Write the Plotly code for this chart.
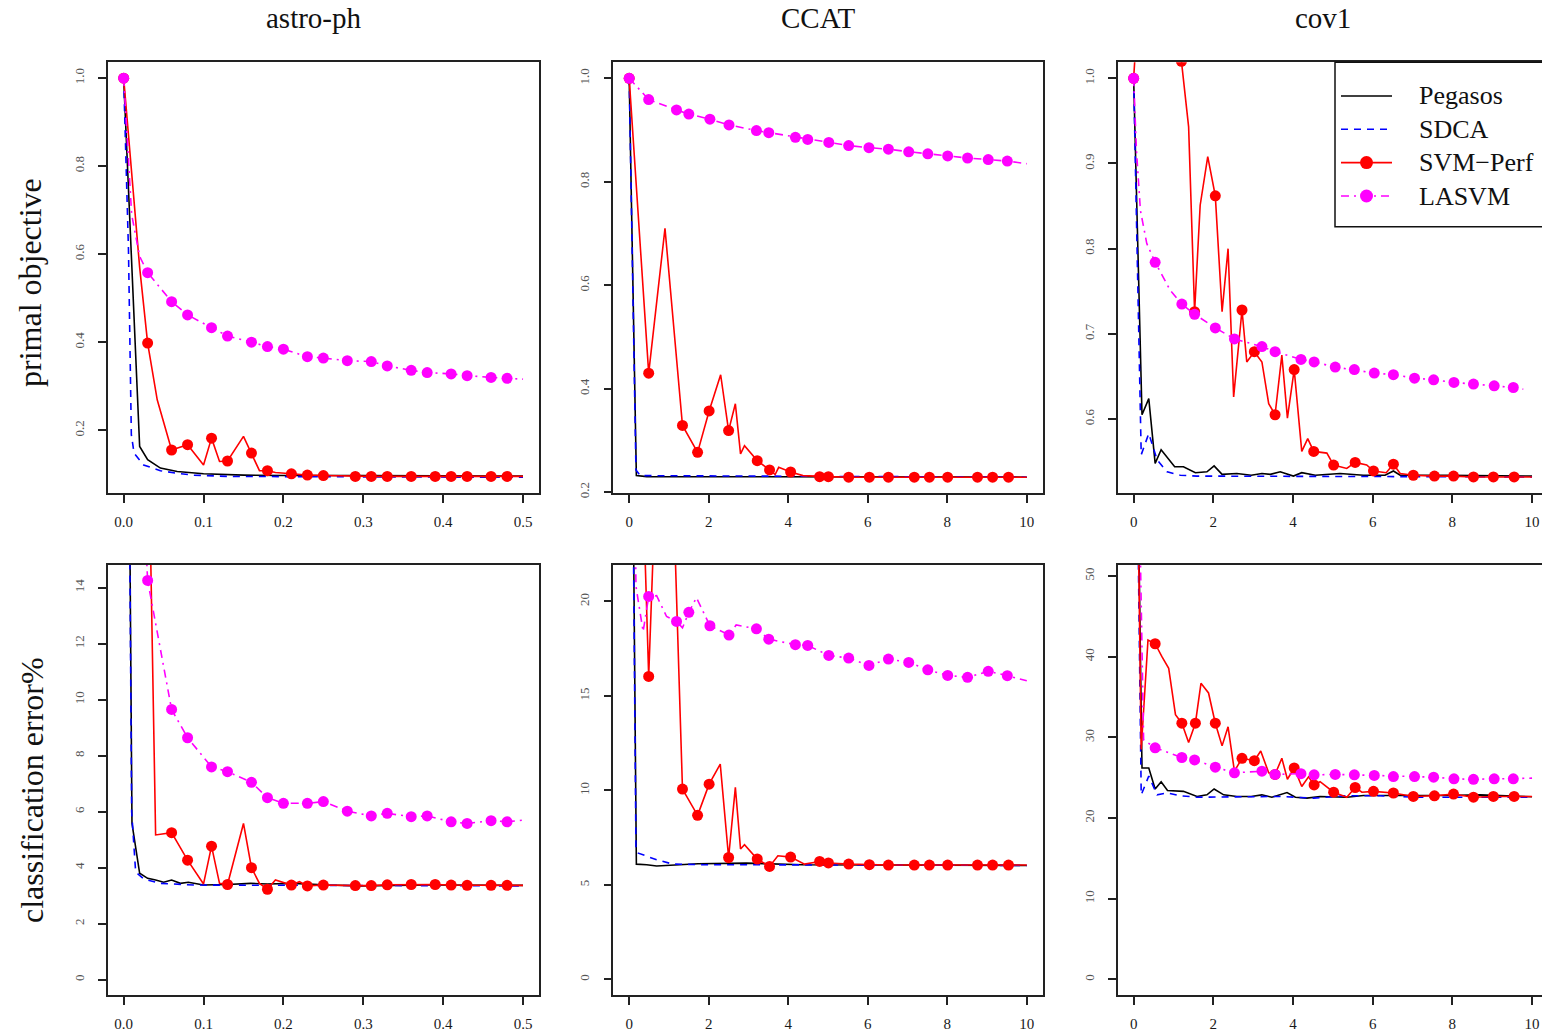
import plotly.graph_objects as go

# ---------------- data ----------------
methods = ["Pegasos", "SDCA", "SVM\u2212Perf", "LASVM"]
datasets = ["astro-ph", "CCAT", "cov1"]
row_labels = ["primal objective", "classification error%"]

# astro-ph, primal objective
a_obj_peg_x = [0, 0.01, 0.02, 0.03, 0.046, 0.067, 0.1, 0.15, 0.2, 0.3, 0.4, 0.5]
a_obj_peg_y = [1.0, 0.6, 0.163, 0.133, 0.114, 0.106, 0.101, 0.098, 0.097, 0.097, 0.096, 0.096]
a_obj_sdca_x = [0, 0.006, 0.0096, 0.013, 0.025, 0.046, 0.067, 0.088, 0.13, 0.2, 0.3, 0.5]
a_obj_sdca_y = [1.0, 0.61, 0.19, 0.148, 0.121, 0.108, 0.102, 0.098, 0.095, 0.094, 0.094, 0.093]
a_obj_svm_x = [0, 0.02, 0.03, 0.042, 0.06, 0.08, 0.1, 0.11, 0.12, 0.13, 0.15, 0.16, 0.17, 0.18, 0.19,
               0.21, 0.23, 0.25, 0.29, 0.31, 0.33, 0.36, 0.39, 0.41, 0.43, 0.46, 0.48, 0.5]
a_obj_svm_y = [1.0, 0.57, 0.398, 0.269, 0.155, 0.167, 0.121, 0.182, 0.129, 0.130, 0.186, 0.148, 0.108, 0.108, 0.104,
               0.101, 0.098, 0.097, 0.095, 0.095, 0.095, 0.095, 0.095, 0.095, 0.095, 0.095, 0.095, 0.095]
a_obj_svm_mark = [1, 0, 1, 0, 1, 1, 0, 1, 0, 1, 0, 1, 0, 1, 0,
                  1, 1, 1, 1, 1, 1, 1, 1, 1, 1, 1, 1, 0]
a_obj_las_x = [0, 0.01, 0.02, 0.03, 0.06, 0.08, 0.11, 0.13, 0.16, 0.18, 0.2, 0.23, 0.25, 0.28, 0.31, 0.33,
               0.36, 0.38, 0.41, 0.43, 0.46, 0.48, 0.5]
a_obj_las_y = [1.0, 0.69, 0.595, 0.558, 0.492, 0.462, 0.433, 0.414, 0.4, 0.39, 0.384, 0.367, 0.364, 0.358,
               0.356, 0.346, 0.336, 0.331, 0.328, 0.324, 0.32, 0.318, 0.316]
a_obj_las_mark = [1, 0, 0, 1, 1, 1, 1, 1, 1, 1, 1, 1, 1, 1, 1, 1, 1, 1, 1, 1, 1, 1, 0]

# CCAT, primal objective
c_obj_peg_x = [0, 0.18, 0.44, 10]
c_obj_peg_y = [1.0, 0.232, 0.23, 0.229]
c_obj_sdca_x = [0, 0.17, 0.28, 10]
c_obj_sdca_y = [1.0, 0.243, 0.232, 0.229]
c_obj_svm_x = [0, 0.49, 0.9, 1.34, 1.72, 2.01, 2.3, 2.5, 2.67, 2.8, 2.9, 3.22, 3.53, 3.67, 3.76, 4.06, 4.37,
               4.79, 5.01, 5.52, 6.04, 6.52, 7.17, 7.55, 8.01, 8.76, 9.14, 9.54, 10]
c_obj_svm_y = [1.0, 0.43, 0.71, 0.329, 0.277, 0.357, 0.427, 0.319, 0.371, 0.274, 0.29, 0.261, 0.243, 0.234,
               0.248, 0.239, 0.232, 0.23, 0.23, 0.229, 0.229, 0.229, 0.229, 0.229, 0.229, 0.229, 0.229, 0.229, 0.229]
c_obj_svm_mark = [1, 1, 0, 1, 1, 1, 0, 1, 0, 0, 0, 1, 1, 0, 0, 1, 0,
                  1, 1, 1, 1, 1, 1, 1, 1, 1, 1, 1, 0]
c_obj_las_x = [0, 0.49, 1.19, 1.5, 2.03, 2.51, 3.2, 3.51, 4.18, 4.49, 5.02, 5.52, 6.03, 6.52, 7.03, 7.51,
               8.01, 8.51, 9.03, 9.51, 10]
c_obj_las_y = [1.0, 0.959, 0.939, 0.931, 0.921, 0.91, 0.899, 0.895, 0.886, 0.882, 0.876, 0.87, 0.866, 0.863,
               0.858, 0.854, 0.85, 0.846, 0.843, 0.84, 0.835]
c_obj_las_mark = [1] * 20 + [0]

# cov1, primal objective
v_obj_peg_x = [0, 0.21, 0.38, 0.54, 0.69, 1.03, 1.25, 1.55, 1.84, 2.02, 2.22, 2.59, 2.95, 3.22, 3.43, 3.68,
               4.01, 4.22, 4.56, 5.18, 5.77, 6.31, 6.52, 6.69, 7.86, 10]
v_obj_peg_y = [1.0, 0.605, 0.624, 0.548, 0.564, 0.544, 0.544, 0.537, 0.538, 0.545, 0.535, 0.536, 0.534, 0.536,
               0.535, 0.538, 0.533, 0.537, 0.534, 0.536, 0.534, 0.534, 0.539, 0.534, 0.534, 0.533]
v_obj_sdca_x = [0, 0.19, 0.38, 0.59, 0.84, 1.17, 1.59, 10]
v_obj_sdca_y = [1.0, 0.558, 0.583, 0.552, 0.538, 0.534, 0.533, 0.532]
v_obj_svm_x = [0, 0.54, 1.2, 1.38, 1.53, 1.67, 1.86, 2.05, 2.22, 2.37, 2.51, 2.72, 2.84, 3.03, 3.22, 3.39, 3.55,
               3.72, 3.86, 4.03, 4.22, 4.37, 4.52, 4.85, 5.02, 5.35, 5.56, 5.85, 6.02, 6.34, 6.52, 6.69, 7.02,
               7.55, 8.03, 8.53, 9.03, 9.55, 10]
v_obj_svm_y = [1.0, 1.4, 1.02, 0.943, 0.726, 0.851, 0.908, 0.862, 0.726, 0.8, 0.626, 0.728, 0.667, 0.679, 0.667,
               0.618, 0.605, 0.675, 0.601, 0.658, 0.562, 0.577, 0.562, 0.56, 0.546, 0.542, 0.549, 0.546, 0.539,
               0.537, 0.547, 0.536, 0.534, 0.533, 0.533, 0.532, 0.532, 0.532, 0.532]
v_obj_svm_mark = [1, 1, 1, 0, 1, 0, 0, 1, 0, 0, 0, 1, 0, 1, 0, 0, 1,
                  0, 0, 1, 0, 0, 1, 0, 1, 0, 1, 0, 1, 0, 1, 0, 1,
                  1, 1, 1, 1, 1, 0]
v_obj_las_x = [0, 0.07, 0.17, 0.33, 0.54, 0.92, 1.21, 1.53, 2.05, 2.53, 3.22, 3.55, 4.2, 4.53, 5.06, 5.54,
               6.04, 6.52, 7.05, 7.53, 8.04, 8.53, 9.05, 9.53, 9.78]
v_obj_las_y = [1.0, 0.916, 0.845, 0.806, 0.784, 0.751, 0.735, 0.723, 0.707, 0.694, 0.685, 0.679, 0.67, 0.667,
               0.661, 0.658, 0.654, 0.652, 0.648, 0.646, 0.643, 0.641, 0.639, 0.637, 0.635]
v_obj_las_mark = [1, 0, 0, 0, 1, 0, 1, 1, 1, 1, 1, 1, 1, 1, 1, 1, 1, 1, 1, 1, 1, 1, 1, 1, 0]

# astro-ph, classification error %
a_err_peg_x = [0, 0.0104, 0.02, 0.03, 0.04, 0.05, 0.06, 0.071, 0.081, 0.1, 0.13, 0.159, 0.18, 0.213, 0.255,
               0.297, 0.38, 0.5]
a_err_peg_y = [46, 5.58, 3.8, 3.62, 3.56, 3.48, 3.56, 3.44, 3.48, 3.38, 3.4, 3.44, 3.42, 3.44, 3.38, 3.35, 3.38, 3.37]
a_err_sdca_x = [0, 0.01, 0.015, 0.025, 0.046, 0.088, 0.5]
a_err_sdca_y = [46, 6.0, 3.85, 3.6, 3.44, 3.38, 3.35]
a_err_svm_x = [0, 0.03, 0.04, 0.06, 0.08, 0.1, 0.11, 0.12, 0.13, 0.15, 0.16, 0.17, 0.18, 0.19, 0.21, 0.22,
               0.23, 0.25, 0.29, 0.31, 0.33, 0.36, 0.39, 0.41, 0.43, 0.46, 0.48, 0.5]
a_err_svm_y = [46, 21.3, 5.17, 5.25, 4.27, 3.42, 4.77, 3.44, 3.4, 5.58, 4.0, 3.44, 3.23, 3.56, 3.38, 3.5,
               3.35, 3.38, 3.36, 3.36, 3.39, 3.4, 3.4, 3.38, 3.37, 3.37, 3.37, 3.37]
a_err_svm_mark = [1, 1, 0, 1, 1, 0, 1, 0, 1, 0, 1, 0, 1, 0, 1, 0,
                  1, 1, 1, 1, 1, 1, 1, 1, 1, 1, 1, 0]
a_err_las_x = [0, 0.01, 0.02, 0.03, 0.06, 0.08, 0.11, 0.13, 0.16, 0.18, 0.2, 0.23, 0.25, 0.28, 0.31, 0.33,
               0.36, 0.38, 0.41, 0.43, 0.46, 0.48, 0.5]
a_err_las_y = [46, 30, 20, 14.26, 9.65, 8.64, 7.6, 7.43, 7.05, 6.5, 6.3, 6.3, 6.36, 6.02, 5.85, 5.94,
               5.82, 5.85, 5.64, 5.58, 5.68, 5.64, 5.7]
a_err_las_mark = [1, 0, 0, 1, 1, 1, 1, 1, 1, 1, 1, 1, 1, 1, 1, 1, 1, 1, 1, 1, 1, 1, 0]

# CCAT, classification error %
c_err_peg_x = [0, 0.18, 0.44, 0.69, 1.73, 2.95, 4.37, 10]
c_err_peg_y = [50, 6.1, 6.07, 6.0, 6.12, 6.15, 6.07, 6.03]
c_err_sdca_x = [0, 0.17, 0.23, 0.69, 1.1, 1.86, 10]
c_err_sdca_y = [50, 6.9, 6.68, 6.33, 6.1, 6.07, 6.03]
c_err_svm_x = [0, 0.49, 0.9, 1.34, 1.72, 2.01, 2.29, 2.5, 2.67, 2.8, 2.9, 3.22, 3.53, 3.74, 4.06, 4.41,
               4.79, 5.01, 5.52, 6.04, 6.52, 7.17, 7.55, 8.01, 8.76, 9.14, 9.54, 10]
c_err_svm_y = [50, 16.03, 40, 10.07, 8.68, 10.33, 11.39, 6.45, 10.16, 6.9, 7.13, 6.37, 5.98, 6.54, 6.47, 6.1,
               6.24, 6.16, 6.1, 6.07, 6.05, 6.05, 6.05, 6.05, 6.05, 6.05, 6.05, 6.05]
c_err_svm_mark = [1, 1, 0, 1, 1, 1, 0, 1, 0, 0, 0, 1, 1, 0, 1, 0,
                  1, 1, 1, 1, 1, 1, 1, 1, 1, 1, 1, 0]
c_err_las_x = [0, 0.17, 0.35, 0.49, 0.69, 0.94, 1.19, 1.34, 1.5, 1.69, 2.03, 2.51, 2.69, 3.2, 3.51, 4.18,
               4.49, 5.02, 5.52, 6.03, 6.52, 7.03, 7.51, 8.01, 8.51, 9.03, 9.51, 10]
c_err_las_y = [50, 20.8, 18.4, 20.26, 20.3, 19.2, 18.94, 18.6, 19.42, 20.2, 18.71, 18.22, 18.75, 18.55,
               18.0, 17.71, 17.67, 17.14, 17.0, 16.61, 16.95, 16.77, 16.38, 16.08, 15.98, 16.3, 16.07, 15.8]
c_err_las_mark = [1, 0, 0, 1, 0, 0, 1, 0, 1, 0, 1, 1, 0, 1, 1, 1,
                  1, 1, 1, 1, 1, 1, 1, 1, 1, 1, 1, 0]

# cov1, classification error %
v_err_peg_x = [0, 0.21, 0.38, 0.54, 0.69, 0.85, 1.25, 1.59, 1.84, 2.02, 2.26, 2.59, 2.95, 3.22, 3.47, 3.85,
               4.06, 4.35, 4.68, 5.35, 5.77, 7.02, 7.86, 8.7, 10]
v_err_peg_y = [100, 26.2, 26.2, 23.6, 24.5, 23.4, 23.3, 22.67, 22.87, 23.6, 22.87, 22.67, 22.67, 22.87, 22.58,
               23.16, 22.58, 22.46, 22.67, 22.58, 22.79, 22.75, 22.79, 22.87, 22.63]
v_err_sdca_x = [0, 0.19, 0.38, 0.59, 0.84, 1.17, 1.59, 2.0, 3.68, 4.52, 5.35, 6.19, 7.02, 10]
v_err_sdca_y = [100, 22.87, 25.2, 22.87, 23.1, 22.75, 22.58, 22.58, 22.67, 22.46, 22.75, 22.75, 22.58, 22.58]
v_err_svm_x = [0, 0.19, 0.36, 0.54, 0.71, 0.88, 1.05, 1.21, 1.38, 1.55, 1.69, 1.88, 2.05, 2.22, 2.37, 2.53,
               2.72, 3.03, 3.19, 3.39, 3.55, 3.72, 3.86, 4.03, 4.22, 4.39, 4.53, 4.68, 5.02, 5.35, 5.56, 5.73,
               6.02, 6.52, 7.02, 7.55, 8.03, 8.53, 9.03, 9.55, 10]
v_err_svm_y = [100, 28.5, 42.07, 41.6, 40.0, 38.56, 32.8, 31.75, 29.36, 31.75, 36.7, 35.5, 31.75, 28.94, 31.3,
               25.8, 27.4, 27.1, 28.3, 25.6, 25.4, 27.4, 24.8, 26.2, 23.9, 25.1, 24.1, 24.5, 23.2, 22.58,
               23.78, 23.2, 23.3, 23.1, 22.67, 22.75, 22.96, 22.58, 22.67, 22.67, 22.67]
v_err_svm_mark = [1, 0, 0, 1, 0, 0, 0, 1, 0, 1, 0, 0, 1, 0, 0, 0,
                  1, 1, 0, 0, 1, 0, 0, 1, 0, 0, 1, 0, 1, 0, 1, 0,
                  1, 1, 1, 1, 1, 1, 1, 1, 0]
v_err_las_x = [0, 0.25, 0.54, 1.21, 1.53, 2.05, 2.53, 3.22, 3.55, 4.2, 4.53, 5.06, 5.54, 6.04, 6.52, 7.05,
               7.53, 8.04, 8.53, 9.05, 9.53, 10]
v_err_las_y = [100, 29.7, 28.7, 27.5, 27.2, 26.3, 25.6, 25.8, 25.4, 25.5, 25.35, 25.4, 25.35, 25.27, 25.14,
               25.14, 25.06, 24.85, 24.8, 24.85, 24.85, 24.94]
v_err_las_mark = [1, 0] + [1] * 19 + [0]

# tick labels
x_ticks_astro = [0.0, 0.1, 0.2, 0.3, 0.4, 0.5]
x_ticklabels_astro = ["0.0", "0.1", "0.2", "0.3", "0.4", "0.5"]
x_ticks_time = [0, 2, 4, 6, 8, 10]
x_ticklabels_time = ["0", "2", "4", "6", "8", "10"]
y_ticks = [
    [0.2, 0.4, 0.6, 0.8, 1.0],
    [0.2, 0.4, 0.6, 0.8, 1.0],
    [0.6, 0.7, 0.8, 0.9, 1.0],
    [0, 2, 4, 6, 8, 10, 12, 14],
    [0, 5, 10, 15, 20],
    [0, 10, 20, 30, 40, 50],
]
y_ticklabels = [
    ["0.2", "0.4", "0.6", "0.8", "1.0"],
    ["0.2", "0.4", "0.6", "0.8", "1.0"],
    ["0.6", "0.7", "0.8", "0.9", "1.0"],
    ["0", "2", "4", "6", "8", "10", "12", "14"],
    ["0", "5", "10", "15", "20"],
    ["0", "10", "20", "30", "40", "50"],
]

panels = [
    (a_obj_peg_x, a_obj_peg_y, a_obj_sdca_x, a_obj_sdca_y, a_obj_svm_x, a_obj_svm_y, a_obj_svm_mark,
     a_obj_las_x, a_obj_las_y, a_obj_las_mark),
    (c_obj_peg_x, c_obj_peg_y, c_obj_sdca_x, c_obj_sdca_y, c_obj_svm_x, c_obj_svm_y, c_obj_svm_mark,
     c_obj_las_x, c_obj_las_y, c_obj_las_mark),
    (v_obj_peg_x, v_obj_peg_y, v_obj_sdca_x, v_obj_sdca_y, v_obj_svm_x, v_obj_svm_y, v_obj_svm_mark,
     v_obj_las_x, v_obj_las_y, v_obj_las_mark),
    (a_err_peg_x, a_err_peg_y, a_err_sdca_x, a_err_sdca_y, a_err_svm_x, a_err_svm_y, a_err_svm_mark,
     a_err_las_x, a_err_las_y, a_err_las_mark),
    (c_err_peg_x, c_err_peg_y, c_err_sdca_x, c_err_sdca_y, c_err_svm_x, c_err_svm_y, c_err_svm_mark,
     c_err_las_x, c_err_las_y, c_err_las_mark),
    (v_err_peg_x, v_err_peg_y, v_err_sdca_x, v_err_sdca_y, v_err_svm_x, v_err_svm_y, v_err_svm_mark,
     v_err_las_x, v_err_las_y, v_err_las_mark),
]

# ---------------- layout geometry ----------------
W, H = 1542, 1034
x_ranges = [[-0.02, 0.52], [-0.4, 10.4], [-0.4, 10.25]]
y_ranges = [[0.058, 1.036], [0.199, 1.031], [0.5135, 1.0188],
            [-0.557, 14.82], [-0.84, 21.94], [-1.98, 51.4]]
col_px = [(107.7, 539.0), (613.3, 1042.7), (1117.7, 1542.0)]
row_px = [(62.3, 492.7), (564.7, 995.3)]

FONT = "Liberation Serif, Times New Roman, serif"
BLACK, BLUE, RED, MAGENTA = "#000000", "#0000FF", "#FF0000", "#FF00FF"
COLORS = [BLACK, BLUE, RED, MAGENTA]
DASHES = ["solid", "7px,6px", "solid", "8px,5px,2px,5px"]
HAS_MARK = [False, False, True, True]
MS = 11
LW = 1.6

fig = go.Figure()
layout = dict(
    width=W, height=H,
    margin=dict(l=0, r=0, t=0, b=0, autoexpand=False),
    paper_bgcolor="white", plot_bgcolor="white",
    font=dict(family=FONT, color="#111"),
    showlegend=False,
)

def mark_colors(flags, color):
    return [color if f else "rgba(0,0,0,0)" for f in flags]

for i, p in enumerate(panels):
    (px_, py_, sx, sy, rx, ry, rm, lx, ly, lm) = p
    r, c = divmod(i, 3)
    ax = "" if i == 0 else str(i + 1)
    xa, ya = "x" + ax, "y" + ax
    fig.add_trace(go.Scatter(x=px_, y=py_, mode="lines", name=methods[0], xaxis=xa, yaxis=ya,
                             line=dict(color=BLACK, width=LW)))
    fig.add_trace(go.Scatter(x=sx, y=sy, mode="lines", name=methods[1], xaxis=xa, yaxis=ya,
                             line=dict(color=BLUE, width=LW, dash=DASHES[1])))
    fig.add_trace(go.Scatter(x=rx, y=ry, mode="lines+markers", name=methods[2], xaxis=xa, yaxis=ya,
                             line=dict(color=RED, width=LW),
                             marker=dict(size=MS, color=mark_colors(rm, RED))))
    fig.add_trace(go.Scatter(x=lx, y=ly, mode="lines+markers", name=methods[3], xaxis=xa, yaxis=ya,
                             line=dict(color=MAGENTA, width=LW, dash=DASHES[3]),
                             marker=dict(size=MS, color=mark_colors(lm, MAGENTA))))

    x0, x1 = col_px[c]
    y0, y1 = row_px[r]
    if c == 0:
        tv, tt = x_ticks_astro, x_ticklabels_astro
    else:
        tv, tt = x_ticks_time, x_ticklabels_time
    layout["xaxis" + ax] = dict(
        domain=[x0 / W, x1 / W], anchor=ya, range=x_ranges[c],
        tickvals=tv, ticktext=tt, ticks="outside", ticklen=8, tickwidth=1.5, tickcolor="#222",
        showline=True, linecolor="#222", linewidth=1.6, mirror=True,
        showgrid=False, zeroline=False, ticklabelstandoff=6,
        tickfont=dict(family=FONT, size=15, color="#1a1a1a"),
    )
    layout["yaxis" + ax] = dict(
        domain=[1 - y1 / H, 1 - y0 / H], anchor=xa, range=y_ranges[i],
        tickvals=y_ticks[i], ticktext=y_ticklabels[i], ticks="outside", ticklen=8, tickwidth=1.5,
        tickcolor="#222", showline=True, linecolor="#222", linewidth=1.6, mirror=True,
        showgrid=False, zeroline=False, tickangle=-90, ticklabelstandoff=9,
        tickfont=dict(family=FONT, size=13, color="#555"),
    )

annotations = []
title_px = [(314, 18), (818, 18), (1323, 18)]
for name, (tx, ty) in zip(datasets, title_px):
    annotations.append(dict(text=name, x=tx / W, y=1 - ty / H, xref="paper", yref="paper",
                            xanchor="center", yanchor="middle", showarrow=False,
                            font=dict(family=FONT, size=29, color="#111")))
row_px_lab = [(30, 283), (32, 790)]
for lab, (tx, ty) in zip(row_labels, row_px_lab):
    annotations.append(dict(text=lab, x=tx / W, y=1 - ty / H, xref="paper", yref="paper",
                            xanchor="center", yanchor="middle", showarrow=False, textangle=-90,
                            font=dict(family=FONT, size=32, color="#111")))

# ---------------- legend box (R-style, drawn in paper pixels) ----------------
shapes = []
LEG_L, LEG_T, LEG_B = 1335, 62.3, 226.7
LEG_LINE = (1341, 1392)
LEG_TEXT_X = 1417
LEG_ROWS = [96, 129.3, 162.6, 196]
LEG_MS = 6.5  # marker radius in px

def px2paper(x, y):
    return x / W, 1 - y / H

lx0, ly0 = px2paper(LEG_L, LEG_T)
lx1, ly1 = px2paper(W + 20, LEG_B)
shapes.append(dict(type="rect", xref="paper", yref="paper", x0=lx0, y0=ly1, x1=lx1, y1=ly0,
                   line=dict(color="#111", width=1.5), fillcolor="white", layer="above"))
for k, name in enumerate(methods):
    yy = LEG_ROWS[k]
    ax0, ay = px2paper(LEG_LINE[0], yy)
    ax1, _ = px2paper(LEG_LINE[1], yy)
    shapes.append(dict(type="line", xref="paper", yref="paper", x0=ax0, x1=ax1, y0=ay, y1=ay,
                       line=dict(color=COLORS[k], width=LW, dash=DASHES[k]), layer="above"))
    if HAS_MARK[k]:
        cx = (LEG_LINE[0] + LEG_LINE[1]) / 2
        c0x, c0y = px2paper(cx - LEG_MS, yy + LEG_MS)
        c1x, c1y = px2paper(cx + LEG_MS, yy - LEG_MS)
        shapes.append(dict(type="circle", xref="paper", yref="paper", x0=c0x, y0=c0y, x1=c1x, y1=c1y,
                           line=dict(width=0, color=COLORS[k]), fillcolor=COLORS[k], layer="above"))
    tx, ty = px2paper(LEG_TEXT_X, yy)
    annotations.append(dict(text=name, x=tx, y=ty, xref="paper", yref="paper",
                            xanchor="left", yanchor="middle", showarrow=False,
                            font=dict(family=FONT, size=26, color="#111")))

layout["annotations"] = annotations
layout["shapes"] = shapes

fig.update_layout(**layout)
fig.write_html("out.html")
